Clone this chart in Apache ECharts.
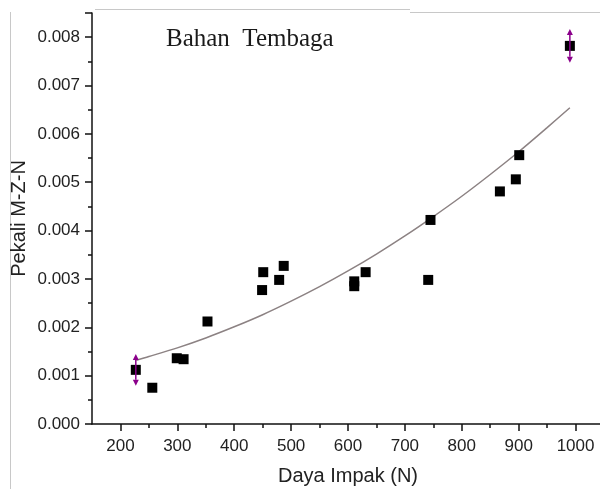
<!DOCTYPE html>
<html>
<head>
<meta charset="utf-8">
<script src="https://cdn.jsdelivr.net/npm/echarts@6/dist/echarts.min.js"></script>
<style>
html,body{margin:0;padding:0;background:#fff;}
#chart{width:600px;height:489px;}
</style>
</head>
<body>
<div id="chart"></div>
<script>
// Measured data points (Daya Impak N, Pekali M-Z-N)
const impactForce = [227, 256, 299, 311, 353, 449, 451, 479, 487, 611, 611, 631, 741, 745, 867, 895, 901, 990];
const coefficient = [0.00112, 0.00075, 0.00136, 0.00134, 0.00212, 0.00277, 0.00314, 0.00298, 0.00327, 0.00295, 0.00285, 0.00314, 0.00298, 0.00422, 0.00481, 0.00506, 0.00556, 0.00782];

// Error bars (shown on first and last points)
const errX = [227, 990];
const errY = [0.00112, 0.00782];
const errSize = [0.00033, 0.00035];

// Fitted trend curve
const fitX = [228, 250, 300, 350, 400, 450, 500, 550, 600, 650, 700, 750, 800, 850, 900, 950, 990];
const fitY = [0.00132, 0.001395, 0.001575, 0.00178, 0.00201, 0.00226, 0.00254, 0.00284, 0.003165, 0.003515, 0.00389, 0.00429, 0.00471, 0.00516, 0.00563, 0.00613, 0.00654];

const xTicks = [200, 300, 400, 500, 600, 700, 800, 900, 1000];
const xMinorTicks = [250, 350, 450, 550, 650, 750, 850, 950];
const yTicks = [0, 0.001, 0.002, 0.003, 0.004, 0.005, 0.006, 0.007, 0.008];

const chart = echarts.init(document.getElementById('chart'), null, {renderer: 'canvas'});

const scatterData = impactForce.map((x, i) => [x, coefficient[i]]);
const fitData = fitX.map((x, i) => [x, fitY[i]]);
const errData = errX.map((x, i) => [x, errY[i], errSize[i]]);

const axisColor = '#111';
const labelFont = {fontFamily: 'Liberation Sans', fontSize: 17, color: '#222'};
const option = {
  animation: false,
  backgroundColor: '#fff',
  grid: {left: 92, top: 13, right: -4, bottom: 65, containLabel: false, outerBoundsMode: 'none'},
  xAxis: [
    {
      type: 'value', min: 150, max: 1050, interval: 50, position: 'bottom',
      name: 'Daya Impak (N)', nameLocation: 'middle', nameGap: 42,
      nameTextStyle: {fontFamily: 'Liberation Sans', fontSize: 20, color: '#222'},
      axisLine: {show: true, onZero: false, lineStyle: {color: axisColor, width: 1.5}},
      axisTick: {show: true, inside: false, length: 7, customValues: xTicks, lineStyle: {color: axisColor, width: 1.5}},
      axisLabel: Object.assign({margin: 14, customValues: xTicks, formatter: v => String(v)}, labelFont),
      splitLine: {show: false}
    },
    {
      type: 'value', min: 150, max: 1050, interval: 50, position: 'bottom', offset: 0,
      axisLine: {show: false, onZero: false},
      axisTick: {show: true, inside: false, length: 4, customValues: xMinorTicks, lineStyle: {color: axisColor, width: 1.5}},
      axisLabel: {show: false},
      splitLine: {show: false}
    }
  ],
  yAxis: {
    type: 'value', min: 0, max: 0.0085, interval: 0.001,
    name: 'Pekali M-Z-N', nameLocation: 'middle', nameGap: 63, nameMoveOverlap: false,
    nameTextStyle: {fontFamily: 'Liberation Sans', fontSize: 20, color: '#222'},
    axisLine: {show: true, onZero: false, lineStyle: {color: axisColor, width: 1.5}},
    axisTick: {show: true, inside: false, length: 7, lineStyle: {color: axisColor, width: 1.5}},
    minorTick: {show: true, splitNumber: 2, length: 4, lineStyle: {color: axisColor, width: 1.5}},
    axisLabel: Object.assign({
      margin: 12, showMaxLabel: false,
      formatter: v => {
        const t = yTicks.find(k => Math.abs(k - v) < 1e-9);
        return t === undefined ? '' : t.toFixed(3);
      }
    }, labelFont),
    splitLine: {show: false}
  },
  graphic: [
    {type: 'line', shape: {x1: 10.5, y1: 12, x2: 10.5, y2: 489}, style: {stroke: '#c8c8c8', lineWidth: 1}, silent: true},
    {type: 'line', shape: {x1: 95, y1: 9.5, x2: 410, y2: 9.5}, style: {stroke: '#c8c8c8', lineWidth: 1}, silent: true},
    {type: 'line', shape: {x1: 410, y1: 12.5, x2: 600, y2: 12.5}, style: {stroke: '#c8c8c8', lineWidth: 1}, silent: true},
    {type: 'text', left: 166, top: 27, z: 10,
      style: {text: 'Bahan  Tembaga', font: '25px "Liberation Serif"', fill: '#1a1a1a'}}
  ],
  series: [
    {
      type: 'line', data: fitData, smooth: 0.3, showSymbol: false, symbol: 'none',
      lineStyle: {color: '#8c8283', width: 1.5}, z: 2, silent: true
    },
    {
      type: 'scatter', data: scatterData, symbol: 'rect', symbolSize: 10,
      itemStyle: {color: '#000', opacity: 1}, z: 3
    },
    {
      type: 'custom', data: errData, z: 4,
      renderItem: function (params, api) {
        const x = api.value(0), y = api.value(1), e = api.value(2);
        const top = api.coord([x, y + e]);
        const bot = api.coord([x, y - e]);
        const col = '#8b008b';
        const w = 3, h = 6;
        return {
          type: 'group',
          children: [
            {type: 'line', shape: {x1: top[0], y1: top[1] + h, x2: bot[0], y2: bot[1] - h}, style: {stroke: col, lineWidth: 1.5}},
            {type: 'polygon', shape: {points: [[top[0], top[1]], [top[0] - w, top[1] + h], [top[0] + w, top[1] + h]]}, style: {fill: col}},
            {type: 'polygon', shape: {points: [[bot[0], bot[1]], [bot[0] - w, bot[1] - h], [bot[0] + w, bot[1] - h]]}, style: {fill: col}}
          ]
        };
      }
    }
  ]
};
chart.setOption(option);
</script>
</body>
</html>
